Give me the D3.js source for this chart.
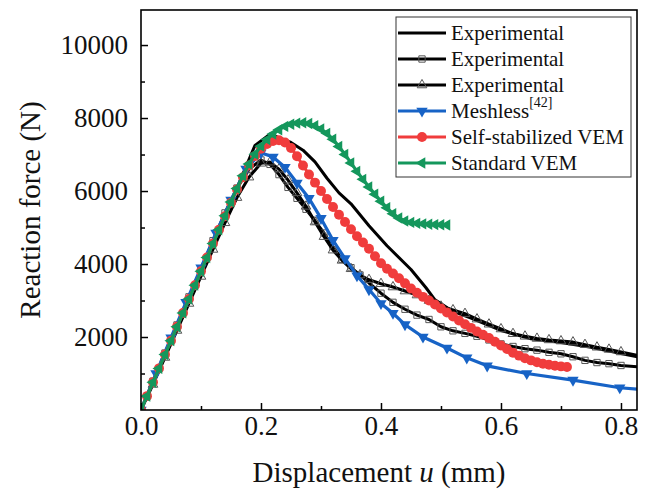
<!DOCTYPE html>
<html>
<head>
<meta charset="utf-8">
<script src="https://cdn.jsdelivr.net/npm/d3@7/dist/d3.min.js"></script>
<style>
body{margin:0;background:#fff;}
svg{display:block;font-family:"Liberation Serif","Times New Roman",serif;}
</style>
</head>
<body>
<div class="chart_container"></div>
<script>
// 資料 - 讀圖估計
// Experimental 1 (plain line)
const exp1Disp  = [0, 0.05, 0.10, 0.15, 0.19, 0.215, 0.25, 0.27, 0.29, 0.31, 0.33, 0.35, 0.38, 0.41, 0.45, 0.475, 0.49, 0.52, 0.55, 0.60, 0.65, 0.70, 0.75, 0.80, 0.83]
const exp1Force = [0, 1900, 3800, 5700, 7250, 7560, 7330, 7120, 6800, 6350, 5950, 5650, 5050, 4500, 3850, 3350, 3020, 2700, 2520, 2180, 1950, 1850, 1720, 1550, 1450]

// Experimental 2 (squares)
const exp2Disp  = [0, 0.02, 0.04, 0.06, 0.08, 0.10, 0.12, 0.14, 0.16, 0.18, 0.20, 0.215, 0.23, 0.245, 0.26, 0.275, 0.29, 0.305, 0.32, 0.335, 0.35, 0.365, 0.38, 0.40, 0.42, 0.44, 0.46, 0.48, 0.50, 0.52, 0.54, 0.56, 0.58, 0.60, 0.62, 0.64, 0.66, 0.68, 0.70, 0.72, 0.74, 0.76, 0.78, 0.80, 0.83]
const exp2Force = [0, 790, 1560, 2330, 3100, 3870, 4640, 5400, 6080, 6600, 6850, 6730, 6450, 6100, 5800, 5500, 5180, 4850, 4480, 4130, 3900, 3700, 3480, 3200, 2950, 2760, 2600, 2480, 2280, 2170, 2100, 2020, 1920, 1810, 1740, 1680, 1640, 1580, 1540, 1460, 1360, 1300, 1270, 1220, 1180]

// Experimental 3 (triangles)
const exp3Disp  = [0, 0.02, 0.04, 0.06, 0.08, 0.10, 0.12, 0.14, 0.16, 0.18, 0.20, 0.215, 0.23, 0.245, 0.26, 0.275, 0.29, 0.305, 0.32, 0.335, 0.35, 0.365, 0.38, 0.40, 0.42, 0.44, 0.46, 0.48, 0.50, 0.52, 0.54, 0.56, 0.58, 0.60, 0.62, 0.64, 0.66, 0.68, 0.70, 0.72, 0.74, 0.76, 0.78, 0.80, 0.83]
const exp3Force = [0, 700, 1440, 2180, 2920, 3660, 4400, 5130, 5820, 6380, 6760, 6790, 6600, 6300, 5950, 5580, 5150, 4750, 4380, 4100, 3870, 3700, 3570, 3460, 3370, 3260, 3150, 3000, 2840, 2740, 2640, 2490, 2350, 2220, 2090, 2020, 1960, 1920, 1890, 1860, 1790, 1720, 1660, 1590, 1490]

// Meshless[42]
const meshDisp  = [0, 0.025, 0.05, 0.075, 0.10, 0.125, 0.15, 0.175, 0.20, 0.22, 0.24, 0.26, 0.28, 0.30, 0.32, 0.34, 0.36, 0.38, 0.40, 0.42, 0.44, 0.47, 0.51, 0.543, 0.577, 0.643, 0.72, 0.798, 0.83]
const meshForce = [0, 1000, 1980, 2950, 3900, 4850, 5750, 6600, 7050, 6930, 6650, 6220, 5800, 5250, 4650, 4150, 3680, 3300, 2920, 2650, 2340, 2000, 1700, 1430, 1210, 1000, 820, 610, 570]

// Self-stabilized VEM
const ssvemDisp  = [0, 0.01, 0.02, 0.03, 0.04, 0.05, 0.06, 0.07, 0.08, 0.09, 0.10, 0.11, 0.12, 0.13, 0.14, 0.15, 0.16, 0.17, 0.18, 0.19, 0.20, 0.21, 0.22, 0.23, 0.24, 0.25, 0.26, 0.27, 0.28, 0.29, 0.30, 0.31, 0.32, 0.33, 0.34, 0.35, 0.36, 0.37, 0.38, 0.39, 0.40, 0.41, 0.42, 0.43, 0.44, 0.45, 0.46, 0.47, 0.48, 0.49, 0.50, 0.51, 0.52, 0.53, 0.54, 0.55, 0.56, 0.57, 0.58, 0.59, 0.60, 0.61, 0.62, 0.63, 0.64, 0.65, 0.66, 0.67, 0.68, 0.69, 0.70, 0.71]
const ssvemForce = [0, 380, 760, 1140, 1520, 1900, 2280, 2660, 3040, 3420, 3800, 4180, 4560, 4940, 5310, 5680, 6040, 6380, 6700, 6960, 7160, 7290, 7370, 7390, 7330, 7180, 6950, 6700, 6450, 6230, 6000, 5780, 5560, 5350, 5150, 4950, 4760, 4590, 4420, 4210, 4020, 3870, 3740, 3610, 3470, 3330, 3210, 3100, 3000, 2890, 2780, 2670, 2560, 2450, 2350, 2250, 2150, 2060, 1970, 1870, 1770, 1670, 1570, 1490, 1420, 1360, 1310, 1270, 1240, 1215, 1195, 1180]

// Standard VEM
const svemDisp  = [0, 0.01, 0.02, 0.03, 0.04, 0.05, 0.06, 0.07, 0.08, 0.09, 0.10, 0.11, 0.12, 0.13, 0.14, 0.15, 0.16, 0.17, 0.18, 0.19, 0.20, 0.21, 0.22, 0.23, 0.24, 0.25, 0.26, 0.27, 0.28, 0.29, 0.30, 0.31, 0.32, 0.33, 0.34, 0.35, 0.36, 0.37, 0.38, 0.39, 0.40, 0.41, 0.42, 0.43, 0.44, 0.45, 0.46, 0.47, 0.48, 0.49, 0.50, 0.51]
const svemForce = [0, 380, 760, 1140, 1520, 1900, 2280, 2660, 3040, 3420, 3800, 4180, 4560, 4940, 5320, 5700, 6070, 6420, 6740, 7010, 7230, 7410, 7560, 7680, 7770, 7830, 7860, 7870, 7850, 7790, 7700, 7580, 7420, 7220, 7000, 6770, 6540, 6320, 6110, 5910, 5720, 5540, 5380, 5260, 5180, 5140, 5115, 5100, 5090, 5080, 5075, 5070]

// 刻度
const xTicks = [0, 0.2, 0.4, 0.6, 0.8]
const xMinorTicks = [0.1, 0.3, 0.5, 0.7]
const yTicks = [2000, 4000, 6000, 8000, 10000]
const yMinorTicks = [1000, 3000, 5000, 7000, 9000]
const legendLabels = ['Experimental', 'Experimental', 'Experimental', 'Meshless', 'Self-stabilized VEM', 'Standard VEM']

// 組合各系列
const zip = (xs, ys) => xs.map((x, i) => ({u: x, f: ys[i]}))
const series = [
    {data: zip(exp1Disp, exp1Force), color: '#000', width: 3, marker: null},
    {data: zip(exp2Disp, exp2Force), color: '#000', width: 3, marker: 'square'},
    {data: zip(exp3Disp, exp3Force), color: '#000', width: 3, marker: 'triangle'},
    {data: zip(meshDisp, meshForce), color: '#1763c6', width: 3.2, marker: 'down'},
    {data: zip(ssvemDisp, ssvemForce), color: '#f03c3c', width: 3, marker: 'circle'},
    {data: zip(svemDisp, svemForce), color: '#14975c', width: 3.2, marker: 'left'}
]

// canvas
const svg_width = 659
const svg_height = 492
const margin = {top: 10, right: 22, bottom: 82, left: 141}
const chart_width = svg_width - margin.left - margin.right
const chart_height = svg_height - margin.top - margin.bottom

const svg = d3.select('.chart_container').append('svg')
    .attr('width', svg_width).attr('height', svg_height)
const g = svg.append('g').attr('transform', `translate(${margin.left},${margin.top})`)

// scale
const xScale = d3.scaleLinear([0, 0.8267], [0, chart_width])
const yScale = d3.scaleLinear([0, 10960], [chart_height, 0])

g.append('clipPath').attr('id', 'plot_clip')
    .append('rect').attr('width', chart_width).attr('height', chart_height)

// marker 形狀
function markerPath(type) {
    if (type === 'square') return d3.symbol(d3.symbolSquare, 40)()
    if (type === 'triangle') return d3.symbol(d3.symbolTriangle, 40)()
    if (type === 'circle') return d3.symbol(d3.symbolCircle, 78)()
    return d3.symbol(d3.symbolTriangle, 56)()
}
function markerRotate(type) {
    if (type === 'down') return 180
    if (type === 'left') return -90
    return 0
}
function drawMarker(sel, s) {
    const hollow = s.marker === 'square' || s.marker === 'triangle'
    sel.attr('d', markerPath(s.marker))
        .attr('fill', hollow ? 'none' : s.color)
        .attr('stroke', hollow ? '#555' : 'none')
        .attr('stroke-width', hollow ? 1 : 0)
}

const line = d3.line().x(d => xScale(d.u)).y(d => yScale(d.f))

const plot = g.append('g').attr('clip-path', 'url(#plot_clip)')
series.forEach(s => {
    plot.append('path').datum(s.data)
        .attr('d', line)
        .attr('fill', 'none')
        .attr('stroke', s.color)
        .attr('stroke-width', s.width)
        .attr('stroke-linejoin', 'round')
    if (s.marker) {
        plot.append('g').selectAll('path')
            .data(s.data.filter(d => d.u <= 0.81))
            .join('path')
            .call(drawMarker, s)
            .attr('transform', d => `translate(${xScale(d.u)},${yScale(d.f)}) rotate(${markerRotate(s.marker)})`)
    }
})

// 軸
const fontTick = 27
const xAxis = d3.axisBottom(xScale).tickValues(xTicks).tickFormat(d3.format('.1f'))
    .tickSizeInner(-7).tickSizeOuter(0).tickPadding(6)
const xAxisDraw = g.append('g').attr('transform', `translate(0,${chart_height})`).call(xAxis)
const xMinor = d3.axisBottom(xScale).tickValues(xMinorTicks).tickFormat('').tickSizeInner(-4).tickSizeOuter(0)
g.append('g').attr('transform', `translate(0,${chart_height})`).call(xMinor)

const yAxis = d3.axisLeft(yScale).tickValues(yTicks).tickFormat(d3.format('d'))
    .tickSizeInner(-7).tickSizeOuter(0).tickPadding(13)
const yAxisDraw = g.append('g').call(yAxis)
const yMinor = d3.axisLeft(yScale).tickValues(yMinorTicks).tickFormat('').tickSizeInner(-4).tickSizeOuter(0)
g.append('g').call(yMinor)

g.selectAll('.domain').remove()
g.selectAll('.tick line').attr('stroke', '#000').attr('stroke-width', 1.5)
g.selectAll('.tick text').attr('font-size', fontTick).attr('fill', '#111')
    .attr('font-family', '"Liberation Serif","Times New Roman",serif')
yAxisDraw.selectAll('.tick text').attr('dy', '0.33em')

// 外框
g.append('rect').attr('width', chart_width).attr('height', chart_height)
    .attr('fill', 'none').attr('stroke', '#000').attr('stroke-width', 1.6)

// 軸標題
const xTitle = svg.append('text')
    .attr('x', margin.left + chart_width / 2 - 10).attr('y', 482)
    .attr('text-anchor', 'middle').attr('font-size', 29).attr('fill', '#111')
xTitle.append('tspan').text('Displacement ')
xTitle.append('tspan').attr('font-style', 'italic').text('u')
xTitle.append('tspan').text(' (mm)')

svg.append('text')
    .attr('transform', `translate(40,${margin.top + 200}) rotate(-90)`)
    .attr('text-anchor', 'middle').attr('font-size', 29).attr('fill', '#111')
    .text('Reaction force (N)')

// legend
const legend = svg.append('g').attr('transform', 'translate(396,17)')
legend.append('rect').attr('width', 235).attr('height', 160)
    .attr('fill', '#fff').attr('stroke', '#333').attr('stroke-width', 1)
series.forEach((s, i) => {
    const row = legend.append('g').attr('transform', `translate(0,${16 + i * 26})`)
    row.append('line').attr('x1', 2).attr('x2', 50)
        .attr('stroke', s.color).attr('stroke-width', s.width)
    if (s.marker) {
        row.append('path').call(drawMarker, s)
            .attr('transform', `translate(26,0) rotate(${markerRotate(s.marker)})`)
    }
    const t = row.append('text').attr('x', 55).attr('dy', '0.33em')
        .attr('font-size', 21).attr('fill', '#111')
    t.append('tspan').text(legendLabels[i])
    if (i === 3) {
        t.append('tspan').attr('font-size', 14).attr('dy', '-0.75em').text('[42]')
    }
})
</script>
</body>
</html>
